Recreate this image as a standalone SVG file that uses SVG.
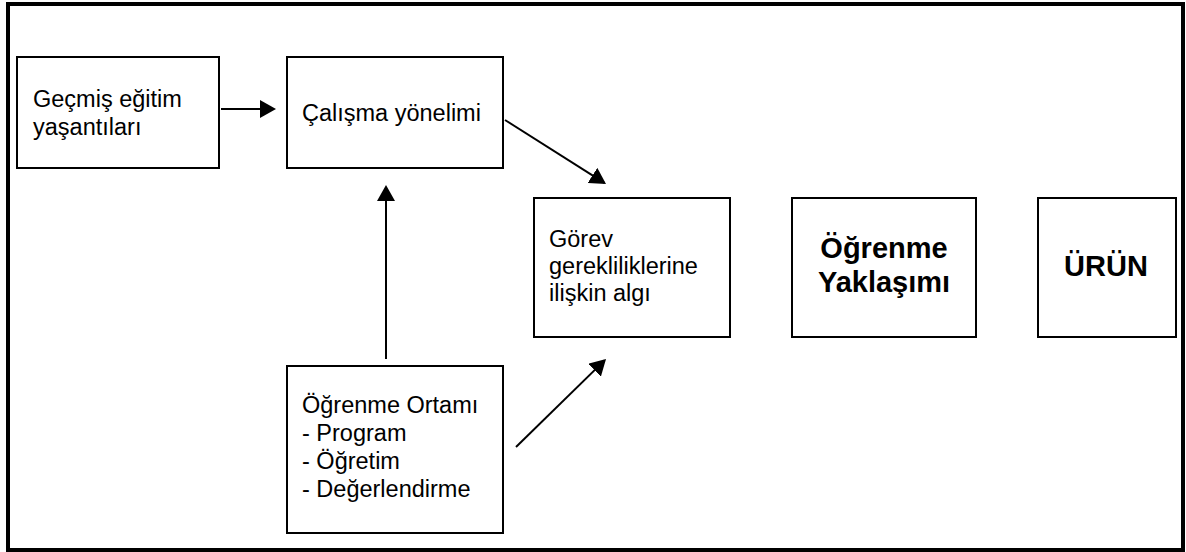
<svg xmlns="http://www.w3.org/2000/svg" width="1186" height="552" viewBox="0 0 1186 552">
  <style>
    .box { fill: #ffffff; stroke: #000000; stroke-width: 2; }
    .t { font-family: "Liberation Sans", Arial, sans-serif; font-size: 23.5px; fill: #000000; }
    .b { font-family: "Liberation Sans", Arial, sans-serif; font-size: 29px; font-weight: bold; fill: #000000; text-anchor: middle; }
    .conn { stroke: #000000; stroke-width: 2; fill: none; marker-end: url(#arrow); }
  </style>
  <defs>
    <marker id="arrow" markerUnits="userSpaceOnUse" markerWidth="17" markerHeight="18" refX="14" refY="9" orient="auto">
      <path d="M0,0 L16,9 L0,18 z" fill="#000000"/>
    </marker>
  </defs>
  <rect x="0" y="0" width="1186" height="552" fill="#ffffff"/>
  <rect id="frame" x="8" y="4" width="1175" height="546" fill="none" stroke="#000000" stroke-width="4"/>

  <g id="connectors">
    <line class="conn" x1="221" y1="109" x2="274" y2="109"/>
    <line class="conn" x1="505" y1="120" x2="604.3" y2="182.9"/>
    <line class="conn" x1="386" y1="359" x2="386" y2="187"/>
    <line class="conn" x1="516" y1="447" x2="604.6" y2="360.4"/>
  </g>

  <g id="node-gecmis">
    <rect class="box" x="17" y="57" width="202" height="111"/>
    <text class="t" x="33" y="107">Geçmiş eğitim</text>
    <text class="t" x="33" y="135">yaşantıları</text>
  </g>

  <g id="node-calisma">
    <rect class="box" x="287" y="57" width="216" height="111"/>
    <text class="t" x="302" y="121">Çalışma yönelimi</text>
  </g>

  <g id="node-gorev">
    <rect class="box" x="534" y="198" width="196" height="139"/>
    <text class="t" x="549" y="247">Görev</text>
    <text class="t" x="549" y="274">gerekliliklerine</text>
    <text class="t" x="549" y="301">ilişkin algı</text>
  </g>

  <g id="node-ortam">
    <rect class="box" x="287" y="366" width="216" height="167"/>
    <text class="t" x="302" y="413">Öğrenme Ortamı</text>
    <text class="t" x="302" y="441">- Program</text>
    <text class="t" x="302" y="469">- Öğretim</text>
    <text class="t" x="302" y="497">- Değerlendirme</text>
  </g>

  <g id="node-yaklasim">
    <rect class="box" x="792" y="198" width="184" height="139"/>
    <text class="b" x="884" y="258">Öğrenme</text>
    <text class="b" x="884" y="292">Yaklaşımı</text>
  </g>

  <g id="node-urun">
    <rect class="box" x="1038" y="198" width="138" height="139"/>
    <text class="b" x="1106" y="276">ÜRÜN</text>
  </g>
</svg>
